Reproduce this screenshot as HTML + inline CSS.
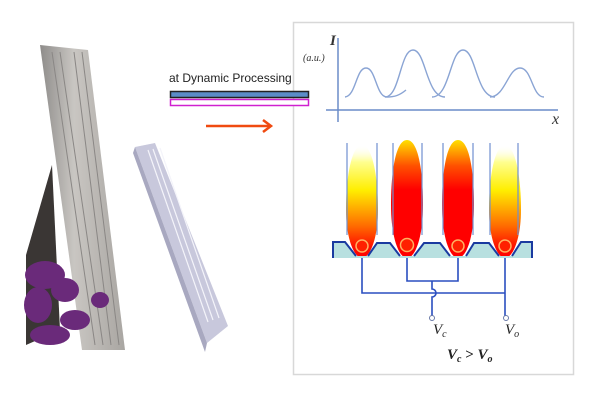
<!DOCTYPE html>
<html><head><meta charset="utf-8"><style>
html,body{margin:0;padding:0;background:#fff;width:600px;height:400px;overflow:hidden}
svg{display:block}
</style></head><body>
<svg width="600" height="400" viewBox="0 0 600 400" xmlns="http://www.w3.org/2000/svg">
<defs>
<linearGradient id="panel" x1="0" y1="0" x2="1" y2="0">
<stop offset="0" stop-color="#8e8c8a"/><stop offset="0.4" stop-color="#c9c6c2"/><stop offset="1" stop-color="#a9a6a2"/></linearGradient>
<linearGradient id="flameY" x1="0" y1="0" x2="0" y2="1">
<stop offset="0" stop-color="#fff" stop-opacity="0"/><stop offset="0.15" stop-color="#ffff90"/><stop offset="0.4" stop-color="#ffee00"/><stop offset="0.72" stop-color="#ff6a00"/><stop offset="0.9" stop-color="#ff1000"/><stop offset="1" stop-color="#ff0000"/></linearGradient>
<linearGradient id="flameR" x1="0" y1="0" x2="0" y2="1">
<stop offset="0" stop-color="#ffe000"/><stop offset="0.22" stop-color="#ff5000"/><stop offset="0.42" stop-color="#ff0000"/><stop offset="1" stop-color="#ff0000"/></linearGradient>
</defs>
<!-- tall panel -->
<polygon points="26,255 52,165 60,330 26,345" fill="#3a3634"/>
<polygon points="40,45 88,50 125,350 82,350" fill="url(#panel)"/>
<g stroke="#8a8785" stroke-width="1">
<line x1="52" y1="52" x2="95" y2="345"/><line x1="60" y1="52" x2="103" y2="345"/>
<line x1="74" y1="52" x2="111" y2="345"/><line x1="82" y1="52" x2="119" y2="345"/></g>
<g fill="#6a2a7a">
<ellipse cx="45" cy="275" rx="20" ry="14"/><ellipse cx="38" cy="305" rx="14" ry="18"/><ellipse cx="65" cy="290" rx="14" ry="12"/>
<ellipse cx="75" cy="320" rx="15" ry="10"/><ellipse cx="100" cy="300" rx="9" ry="8"/><ellipse cx="50" cy="335" rx="20" ry="10"/></g>
<!-- small block -->
<polygon points="135,147 155,143 228,326 207,343" fill="#c8c8dc"/>
<polygon points="135,147 207,343 205,352 133,153" fill="#a8a8c0"/>
<g stroke="#f4f4fa" stroke-width="1.2" fill="none">
<line x1="148" y1="150" x2="208" y2="322"/><line x1="153" y1="149" x2="213" y2="320"/>
<line x1="160" y1="148" x2="219" y2="318"/></g>
<!-- box -->
<rect x="293.5" y="22.5" width="280" height="352" fill="#fff" stroke="#d8d8d8" stroke-width="1.5"/>
<!-- text and bars -->
<text x="169" y="82" font-family="Liberation Sans, sans-serif" font-size="12" fill="#222">at Dynamic Processing</text>
<rect x="170.5" y="91.5" width="138" height="6" fill="#5b8cc8" stroke="#222" stroke-width="1.5"/>
<rect x="170.5" y="99.5" width="138" height="6" fill="#fff" stroke="#d020d0" stroke-width="1.5"/>
<line x1="206" y1="126" x2="270" y2="126" stroke="#f04a10" stroke-width="2.5"/>
<polyline points="263,120 271,126 263,132" fill="none" stroke="#f04a10" stroke-width="2.5"/>
<!-- graph -->
<line x1="338" y1="38" x2="338" y2="122" stroke="#6a8cc8" stroke-width="1.5"/>
<line x1="326" y1="110" x2="558" y2="110" stroke="#6a8cc8" stroke-width="1.5"/>
<text x="330" y="45" font-family="Liberation Serif, serif" font-size="15" font-style="italic" font-weight="bold" fill="#333">I</text>
<text x="303" y="61" font-family="Liberation Serif, serif" font-size="10" font-style="italic" fill="#333">(a.u.)</text>
<text x="552" y="124" font-family="Liberation Serif, serif" font-size="16" font-style="italic" fill="#333">x</text>
<g fill="none" stroke="#8aa4d4" stroke-width="1.4">
<path d="M345,97 C356,96 356,68 366,68 C376,68 376,97 387,97 C395,97 400,95 406,90"/>
<path d="M385,97 C400,97 400,50 413,50 C426,50 426,97 445,97"/>
<path d="M432,97 C450,97 450,50 463,50 C476,50 476,97 495,97"/>
<path d="M490,97 C505,97 508,68 520,68 C532,68 532,97 544,97"/></g>
<!-- flames -->
<path d="M362,145 C372,145 378,175 378,210 C378,238 370,258 362,258 C354,258 346,238 346,210 C346,175 352,145 362,145Z" fill="url(#flameY)"/>
<path d="M407,140 C418,140 423,170 423,205 C423,238 415,258 407,258 C399,258 391,238 391,205 C391,170 396,140 407,140Z" fill="url(#flameR)"/>
<path d="M458,140 C469,140 474,170 474,205 C474,238 466,258 458,258 C450,258 442,238 442,205 C442,170 447,140 458,140Z" fill="url(#flameR)"/>
<path d="M505,145 C515,145 521,175 521,210 C521,238 513,258 505,258 C497,258 489,238 489,210 C489,175 495,145 505,145Z" fill="url(#flameY)"/>
<g stroke="#7090d0" stroke-width="1.2">
<line x1="347" y1="143" x2="347" y2="235"/><line x1="377" y1="143" x2="377" y2="235"/>
<line x1="393" y1="143" x2="393" y2="235"/><line x1="422" y1="143" x2="422" y2="235"/>
<line x1="443" y1="143" x2="443" y2="235"/><line x1="473" y1="143" x2="473" y2="235"/>
<line x1="490" y1="143" x2="490" y2="235"/><line x1="518" y1="143" x2="518" y2="235"/></g>
<!-- substrate -->
<path d="M333,258 L333,242 L345,242 L356,256 L368,256 L377,243 L390,243 L400,256 L414,256 L424,243 L440,243 L450,256 L466,256 L474,243 L489,243 L499,256 L512,256 L521,242 L532,242 L532,258Z" fill="#b8e0e0"/>
<path d="M333,258 L333,242 L345,242 L356,256 M368,256 L377,243 L390,243 L400,256 M414,256 L424,243 L440,243 L450,256 M466,256 L474,243 L489,243 L499,256 M512,256 L521,242 L532,242 L532,258" fill="none" stroke="#1a3aa0" stroke-width="2"/>
<g fill="#ff2000" stroke="#ffb060" stroke-width="1.5">
<circle cx="362" cy="246" r="6"/><circle cx="407" cy="245" r="6.5"/><circle cx="458" cy="246" r="6"/><circle cx="505" cy="246" r="6"/></g>
<!-- wires -->
<g fill="none" stroke="#2a4ec0" stroke-width="1.6">
<polyline points="362,258 362,293 505,293"/>
<line x1="505" y1="258" x2="505" y2="316"/>
<polyline points="407,258 407,281 458,281 458,258"/>
<path d="M432,281 L432,289 A4,4 0 0 1 432,297 L432,316"/></g>
<circle cx="432" cy="318" r="2.5" fill="#fff" stroke="#6a7aa8" stroke-width="1"/>
<circle cx="506" cy="318" r="2.5" fill="#fff" stroke="#6a7aa8" stroke-width="1"/>
<g font-family="Liberation Serif, serif" font-style="italic" fill="#222">
<text x="433" y="334" font-size="15">V<tspan font-size="10" dy="3">c</tspan></text>
<text x="505" y="334" font-size="15">V<tspan font-size="10" dy="3">o</tspan></text>
<text x="447" y="359" font-size="15" font-weight="bold">V<tspan font-size="10" dy="3">c</tspan><tspan dy="-3" font-style="normal"> &gt; </tspan>V<tspan font-size="10" dy="3">o</tspan></text>
</g>
</svg>
</body></html>
